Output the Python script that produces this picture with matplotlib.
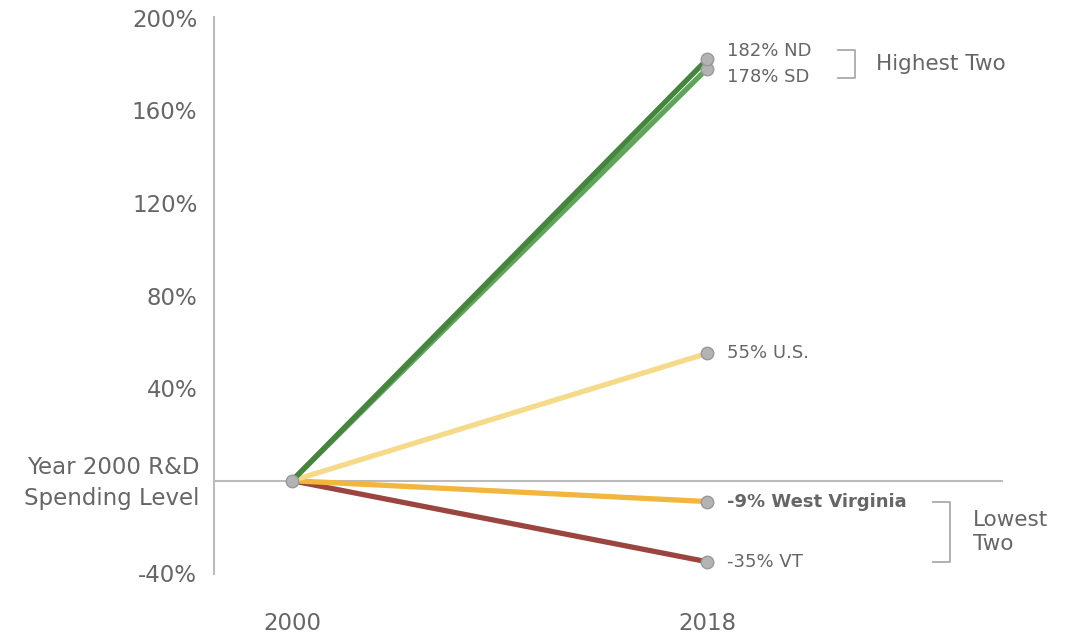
import matplotlib.pyplot as plt

# data
years = ['2000', '2018']
states = ['VT', 'West Virginia', 'U.S.', 'SD', 'ND']
growth = [-35, -9, 55, 178, 182]
colors = ['#9b4540', '#f2b63c', '#f5da8b', '#5ea55a', '#47843f']
yticks = [-40, 40, 80, 120, 160, 200]

text_col = '#666666'

fig = plt.figure(figsize=(10.68, 6.37), dpi=100)
ax = fig.add_axes([0.2004, 0.0989, 0.7388, 0.8744])

for name, val, c in zip(states, growth, colors):
    ax.plot([0, 1], [0, val], color=c, lw=3.8, solid_capstyle='butt', zorder=2)
    ax.plot(1, val, 'o', ms=9, mfc='#b3b3b3', mec='#999999', mew=1, zorder=4)
ax.plot(0, 0, 'o', ms=9, mfc='#b3b3b3', mec='#999999', mew=1, zorder=4)

# end labels
offsets = {'ND': 6, 'SD': -6, 'U.S.': 0, 'West Virginia': 0, 'VT': 0}
for name, val in zip(states, growth):
    lab = '%d%% %s' % (val, name)
    bold = name == 'West Virginia'
    ax.annotate(lab, (1, val), xytext=(14, offsets[name]), textcoords='offset points',
                va='center', ha='left', fontsize=13, color=text_col,
                fontweight='bold' if bold else 'normal')

ax.axhline(0, color='#bbbbbb', lw=1.5, zorder=1)

# brackets
bx, bw = 1.316, 0.041
ax.plot([bx, bx + bw, bx + bw, bx], [186, 186, 174, 174], color='#aaaaaa', lw=1.3)
ax.text(1.407, 180, 'Highest Two', va='center', ha='left', fontsize=15.5, color=text_col)
bx2 = 1.545
ax.plot([bx2, bx2 + bw, bx2 + bw, bx2], [-9, -9, -35, -35], color='#aaaaaa', lw=1.3)
ax.text(1.641, -22, 'Lowest\nTwo', va='center', ha='left', fontsize=15.5,
        color=text_col, linespacing=1.25)

ax.set_xlim(-0.188, 1.713)
ax.set_ylim(-40.3, 200.3)
ax.set_xticks([0, 1])
ax.set_xticklabels(years)
ax.set_yticks(yticks)
ax.set_yticklabels(['%d%%' % v for v in yticks])
ax.tick_params(length=0, labelsize=16.5, labelcolor=text_col)
ax.tick_params(axis='y', pad=12)
ax.tick_params(axis='x', pad=27)
ax.text(-0.018, -0.8, 'Year 2000 R&D\nSpending Level', transform=ax.get_yaxis_transform(),
        ha='right', va='center', fontsize=16.5, color=text_col, linespacing=1.45)

for s in ['top', 'right', 'bottom']:
    ax.spines[s].set_visible(False)
ax.spines['left'].set_color('#bbbbbb')
ax.spines['left'].set_linewidth(1.5)

plt.savefig('out.png', dpi=100)
